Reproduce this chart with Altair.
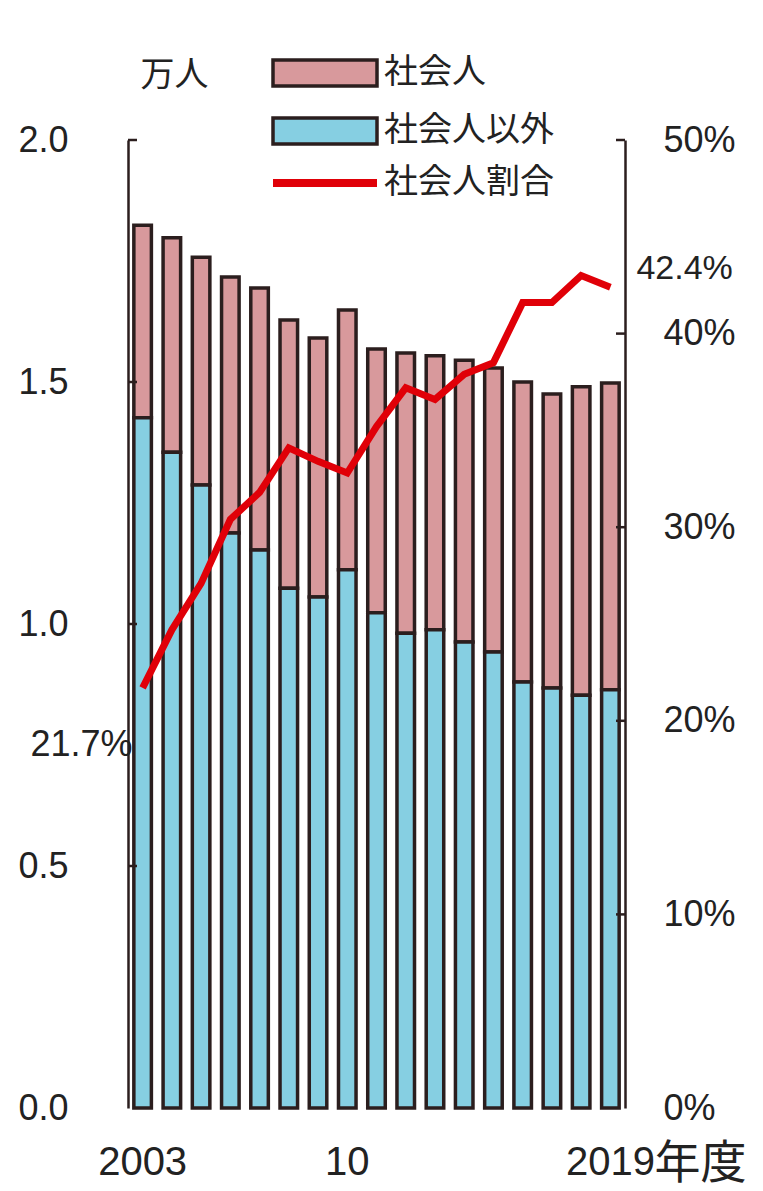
import altair as alt
import pandas as pd

years = [str(y) for y in range(2003, 2020)]
worker = [0.398, 0.443, 0.471, 0.529, 0.541, 0.554, 0.535, 0.537, 0.545,
          0.579, 0.566, 0.582, 0.587, 0.620, 0.607, 0.637, 0.634]
non_worker = [1.426, 1.355, 1.287, 1.188, 1.153, 1.074, 1.056, 1.112, 1.023,
              0.981, 0.988, 0.963, 0.942, 0.880, 0.868, 0.853, 0.864]
ratio = [21.7, 24.7, 27.1, 30.4, 31.8, 34.1, 33.4, 32.8, 35.2,
         37.2, 36.6, 37.9, 38.5, 41.6, 41.6, 43.0, 42.4]
categories = ["社会人", "社会人以外"]
line_name = "社会人割合"
left_ticks = [0.5, 1.0, 1.5, 2.0]
right_ticks = [10, 20, 30, 40, 50]

FONT = "Liberation Sans, Noto Sans CJK JP"
PINK = "#d8999c"
BLUE = "#86cfe2"
RED = "#e00008"
DARK = "#2b1e1e"
TXT = "#222222"

bars_df = pd.DataFrame({
    "year": years * 2,
    "value": worker + non_worker,
    "cat": [categories[0]] * len(years) + [categories[1]] * len(years),
    "ord": [1] * len(years) + [0] * len(years),
})
line_df = pd.DataFrame({"year": years, "ratio": ratio, "name": line_name})
lt_df = pd.DataFrame({"v": left_ticks})
rt_df = pd.DataFrame({"v": right_ticks})

W, H = 497, 968

xscale = alt.Scale(domain=years, paddingInner=0.4, paddingOuter=0.2)
yl = alt.Scale(domain=[0, 2], nice=False, zero=True)
yr = alt.Scale(domain=[0, 50], nice=False, zero=True)

box_path = "M-4,-1H4V1H-4Z"
line_path = "M-4,0H4"

bars = alt.Chart(bars_df).mark_bar(stroke=DARK, strokeWidth=3.5).encode(
    x=alt.X("year:N", scale=xscale, sort=years,
            axis=alt.Axis(title=None, domain=False, ticks=False, labelAngle=0,
                          labelFontSize=40, labelFont=FONT, labelColor=TXT,
                          labelPadding=34,
                          labelExpr="datum.value == '2003' ? '2003' : datum.value == '2010' ? '10' : datum.value == '2019' ? '2019' : ''")),
    y=alt.Y("value:Q", stack="zero", scale=yl,
            axis=alt.Axis(orient="left", title="万人", titleAngle=0, titleAlign="left",
                          titleBaseline="middle", titleX=12, titleY=-65,
                          titleFontSize=34, titleFont=FONT, titleFontWeight="normal",
                          titleColor=TXT,
                          values=[0, 0.5, 1.0, 1.5, 2.0], format=".1f",
                          labelFontSize=36, labelFont=FONT, labelColor=TXT,
                          labelAlign="left", labelPadding=110, tickSize=0, ticks=False,
                          domainColor=DARK, domainWidth=2.5, grid=False)),
    fill=alt.Fill("cat:N", scale=alt.Scale(domain=categories, range=[PINK, BLUE]),
                  legend=alt.Legend(title=None, orient="none", legendX=180, legendY=-84,
                                    symbolType=box_path, symbolSize=676,
                                    symbolStrokeColor=DARK, symbolStrokeWidth=3.5,
                                    labelFontSize=34, labelFont=FONT, labelColor=TXT,
                                    labelLimit=400, labelOffset=42, rowPadding=18)),
    order=alt.Order("ord:Q"),
)

left_tick_marks = alt.Chart(lt_df).mark_rule(color=DARK, strokeWidth=2.5).encode(
    y=alt.Y("v:Q", scale=yl, axis=None),
    x=alt.value(0), x2=alt.value(9),
)
right_tick_marks = alt.Chart(rt_df).mark_rule(color=DARK, strokeWidth=2.5).encode(
    y=alt.Y("v:Q", scale=yr, axis=None),
    x=alt.value(W - 9), x2=alt.value(W),
)

line = alt.Chart(line_df).mark_line(strokeWidth=7, strokeJoin="miter").encode(
    x=alt.X("year:N", scale=xscale, sort=years),
    y=alt.Y("ratio:Q", scale=yr,
            axis=alt.Axis(orient="right", title=None, values=right_ticks + [0],
                          labelExpr="datum.value + '%'",
                          labelFontSize=36, labelFont=FONT, labelColor=TXT,
                          labelAlign="left", labelPadding=38, tickSize=0, ticks=False,
                          domainColor=DARK, domainWidth=2.5, grid=False)),
    stroke=alt.Stroke("name:N", scale=alt.Scale(domain=[line_name], range=[RED]),
                      legend=alt.Legend(title=None, orient="none", legendX=180, legendY=26,
                                        symbolType=line_path, symbolSize=676,
                                        symbolStrokeWidth=8,
                                        labelFontSize=34, labelFont=FONT, labelColor=TXT,
                                        labelLimit=400, labelOffset=42)),
)

first_lbl = alt.Chart(line_df).transform_filter("datum.year == '2003'").transform_calculate(
    t="format(datum.ratio, '.1f') + '%'"
).mark_text(
    align="right", baseline="middle", dx=-10, dy=57, fontSize=36, font=FONT, color=TXT
).encode(
    x=alt.X("year:N", scale=xscale, sort=years),
    y=alt.Y("ratio:Q", scale=yr, axis=None),
    text="t:N",
)

last_lbl = alt.Chart(line_df).transform_filter("datum.year == '2019'").transform_calculate(
    t="format(datum.ratio, '.1f') + '%'"
).mark_text(
    align="left", baseline="middle", dx=26, dy=-18, fontSize=34, font=FONT, color=TXT
).encode(
    x=alt.X("year:N", scale=xscale, sort=years),
    y=alt.Y("ratio:Q", scale=yr, axis=None),
    text="t:N",
)

nendo = alt.Chart(line_df).transform_filter("datum.year == '2019'").transform_calculate(
    t="'年度'"
).mark_text(
    align="left", baseline="middle", dx=44, fontSize=46, font=FONT, color=TXT
).encode(
    x=alt.X("year:N", scale=xscale, sort=years),
    y=alt.value(H + 56),
    text="t:N",
)

chart = alt.layer(
    bars, left_tick_marks, line, right_tick_marks, first_lbl, last_lbl, nendo
).resolve_scale(y="independent", fill="independent", stroke="independent").properties(
    width=W, height=H,
    autosize=alt.AutoSizeParams(type="none"),
    padding={"left": 120, "top": 132, "right": 130, "bottom": 83},
).configure(background="white").configure_view(stroke=None)

chart.save("out.html", embed_options={"renderer": "svg", "actions": False})
